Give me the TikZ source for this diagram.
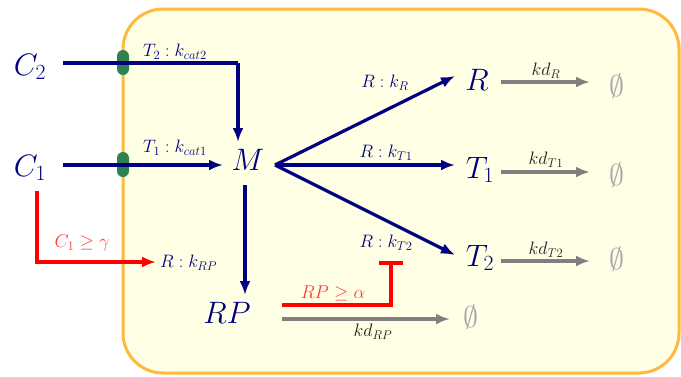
\RequirePackage{fix-cm}
\documentclass[tikz,border=0pt]{standalone}
\usetikzlibrary{arrows.meta}
\definecolor{boxfill}{RGB}{255,255,230}
\definecolor{boxedge}{RGB}{255,185,60}
\definecolor{dotgreen}{RGB}{46,130,80}
\definecolor{mynavy}{RGB}{0,0,128}
\definecolor{mygray}{RGB}{128,128,128}
\definecolor{emptygray}{RGB}{165,165,165}
\definecolor{labred}{RGB}{255,60,60}
\definecolor{kdtext}{RGB}{30,30,30}
\begin{document}
\begin{tikzpicture}[x=1pt,y=-1pt,
  big/.style={text=mynavy, font=\fontsize{31}{34}\selectfont, inner sep=0pt},
  small/.style={text=mynavy, font=\fontsize{18}{20}\selectfont, inner sep=0pt},
  kdlab/.style={text=kdtext, font=\fontsize{18}{20}\selectfont, inner sep=0pt},
  redlab/.style={text=labred, font=\fontsize{18.5}{20}\selectfont, inner sep=0pt},
  empty/.style={text=emptygray, font=\fontsize{30}{34}\selectfont, inner sep=0pt},
  flow/.style={draw=mynavy, line width=3.2pt, -{Latex[length=14pt,width=11pt]}},
  flowline/.style={draw=mynavy, line width=3.2pt},
  decay/.style={draw=mygray, line width=3.3pt, -{Latex[length=14pt,width=11pt]}},
  reg/.style={draw=red, line width=3.3pt, -{Latex[length=14pt,width=11pt]}},
  inhib/.style={draw=red, line width=3.3pt, -{Bar[width=24pt,line width=3.5pt]}},
  gate/.style={fill=dotgreen, draw=none, minimum width=12pt, minimum height=25pt, rounded corners=6pt, inner sep=0pt},
]
\useasboundingbox (0,0) rectangle (681,376);
% compartment
\draw[boxedge, fill=boxfill, line width=3pt, rounded corners=40pt] (123,9) rectangle (679,373);
% green transporters
\node[gate] (g2) at (123,62.5) {};
\node[gate] (g1) at (123,164.5) {};
% species
\node[big] (C2) at (30,67) {$C_2$};
\node[big] (C1) at (30,168) {$C_1$};
\node[big] (M) at (248,160) {$M$};
\node[big] (R) at (477,80) {$R$};
\node[big] (T1) at (480,170) {$T_1$};
\node[big] (T2) at (480,258) {$T_2$};
\node[big] (RP) at (227,313) {$RP$};
\node[empty] (e1) at (617,86) {$\emptyset$};
\node[empty] (e2) at (617,175) {$\emptyset$};
\node[empty] (e3) at (617,259) {$\emptyset$};
\node[empty] (e4) at (471,317) {$\emptyset$};
% connector ends
\coordinate (c2out) at (63,63);
\coordinate (c2turn) at (238,63);
\coordinate (mtop) at (238,142);
\coordinate (c1out) at (63,165);
\coordinate (mleft) at (223,165);
\coordinate (mright) at (275,165);
\coordinate (rin) at (455,76);
\coordinate (t1in) at (455,165);
\coordinate (t2in) at (455,255);
\coordinate (mbot) at (245,185);
\coordinate (rptop) at (245,295);
\coordinate (rout) at (501,82);
\coordinate (rend) at (590,82);
\coordinate (t1out) at (501,172);
\coordinate (t1end) at (590,172);
\coordinate (t2out) at (501,261);
\coordinate (t2end) at (590,261);
\coordinate (rpout) at (282,319);
\coordinate (rpend) at (450,319);
\coordinate (c1down) at (37,191);
\coordinate (c1corner) at (37,262);
\coordinate (krp) at (156,262);
\coordinate (rpred) at (282,305);
\coordinate (redcorner) at (391,305);
\coordinate (kt2) at (391,261);
% labels
\node[small] (lt2) at (175,52) {$T_2:k_{cat2}$};
\node[small] (lt1) at (175,148) {$T_1:k_{cat1}$};
\node[small] (lkr) at (385,83) {$R:k_R$};
\node[small] (lkt1) at (386,153) {$R:k_{T1}$};
\node[small] (lkt2) at (386,243) {$R:k_{T2}$};
\node[small, anchor=west] (lkrp) at (160,263) {$R:k_{RP}$};
\node[kdlab] (kdr) at (546,71) {$kd_R$};
\node[kdlab] (kdt1) at (546,160) {$kd_{T1}$};
\node[kdlab] (kdt2) at (546,250) {$kd_{T2}$};
\node[kdlab] (kdrp) at (373,332) {$kd_{RP}$};
\node[redlab] (lc1) at (82,243) {$C_1\geq\gamma$};
\node[redlab] (lrp) at (333,293) {$RP\geq\alpha$};
% connectors
\draw[flowline] (c2out) -- (c2turn);
\draw[flow] (c2turn) -- (mtop);
\draw[flow] (c1out) -- (mleft);
\draw[flow] (mright) -- (rin);
\draw[flow] (mright) -- (t1in);
\draw[flow] (mright) -- (t2in);
\draw[flow] (mbot) -- (rptop);
\draw[decay] (rout) -- (rend);
\draw[decay] (t1out) -- (t1end);
\draw[decay] (t2out) -- (t2end);
\draw[decay] (rpout) -- (rpend);
\draw[reg] (c1down) -- (c1corner) -- (krp);
\draw[inhib] (rpred) -- (redcorner) -- (kt2);
\end{tikzpicture}
\end{document}
